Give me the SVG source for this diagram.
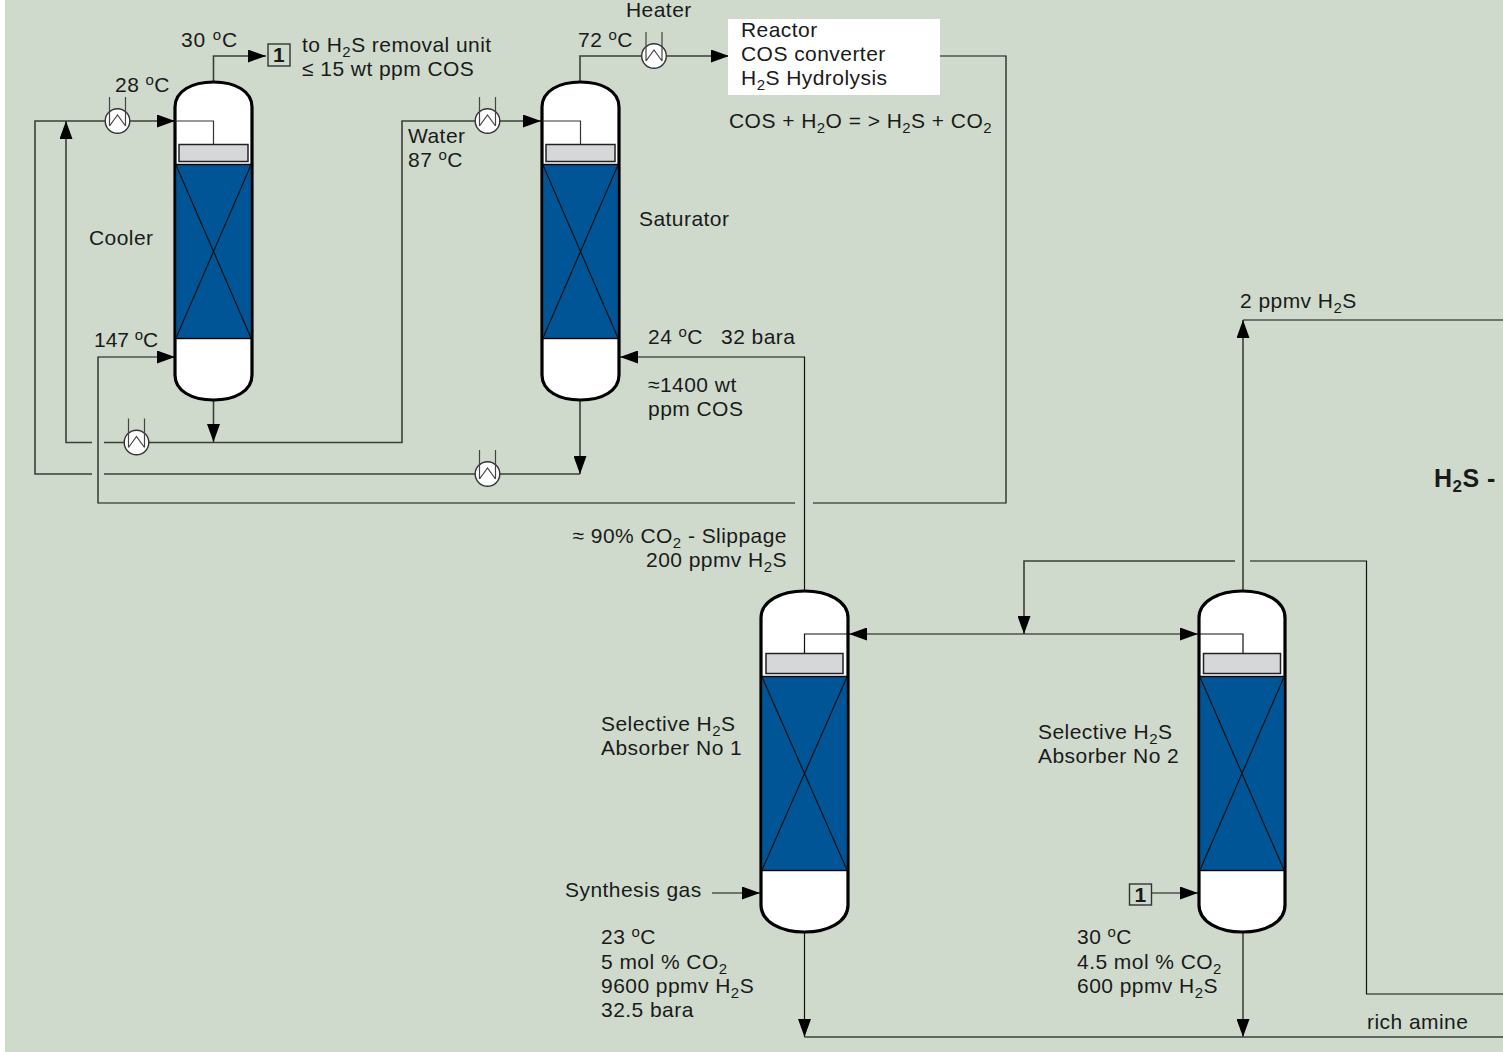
<svg xmlns="http://www.w3.org/2000/svg" xmlns:xlink="http://www.w3.org/1999/xlink" width="1503" height="1052" viewBox="0 0 1503 1052">
<style>
text{font-family:"Liberation Sans",Arial,sans-serif;font-size:21px;letter-spacing:.45px;fill:#1a1a1a}
.sub{font-size:15px}
.sup{font-size:15px}
.b{font-weight:700}
.ln{fill:none;stroke:#3a3f3a;stroke-width:1.6}
.thin{fill:none;stroke:#111;stroke-width:1.2}
.ves{fill:#fff;stroke:#000;stroke-width:3.2}
.pack{fill:#005596;stroke:#000;stroke-width:1.4}
.tray{fill:#d6d7d9;stroke:#222;stroke-width:1.5}
.hx{fill:#fff;stroke:#333;stroke-width:1.4}
.hxl{fill:none;stroke:#444;stroke-width:1.2}
.tag{fill:none;stroke:#333;stroke-width:1.4}
</style>
<defs>
<marker id="a" markerUnits="userSpaceOnUse" markerWidth="19" markerHeight="13" refX="18" refY="6.5" orient="auto-start-reverse"><path d="M0 0L18 6.5L0 13Z" fill="#000"/></marker>
<g id="hx"><circle class="hx" r="12.3"/><path class="hxl" d="M-8-24V5M8-24V5M-8 5L0-6L8 5"/></g>
</defs>
<rect width="1503" height="1052" fill="#fff"/>
<rect x="5" width="1498" height="1052" fill="#cfdacd"/>

<g id="connectors">
<path class="ln" d="M213.500 82V56H266" marker-end="url(#a)"/>
<path class="ln" d="M92 474H35V121H175" marker-end="url(#a)"/>
<path class="ln" d="M104 474H580"/>
<path class="ln" d="M92 442.500H66V121" marker-end="url(#a)"/>
<path class="ln" d="M104 442.500H402V121H541" marker-end="url(#a)"/>
<path class="ln" d="M213.500 400V442" marker-end="url(#a)"/>
<path class="ln" d="M580 400V474" marker-end="url(#a)"/>
<path class="thin" d="M795 503H98V357H175" marker-end="url(#a)"/>
<path class="thin" d="M813 503H1006V56H940"/>
<path class="ln" d="M580 82V56H729" marker-end="url(#a)"/>
<path class="thin" d="M804.500 591V357H620" marker-end="url(#a)"/>
<path class="ln" d="M1243 591V320" marker-end="url(#a)"/>
<path class="thin" d="M1243 320H1503"/>
<path class="ln" d="M1235 561H1024V634" marker-end="url(#a)"/>
<path class="thin" d="M1250 561H1366.500V994H1503"/>
<path class="thin" d="M849 634H1198" marker-start="url(#a)" marker-end="url(#a)"/>
<path class="thin" d="M712 893H760" marker-end="url(#a)"/>
<path class="thin" d="M1152 893H1198" marker-end="url(#a)"/>
<path class="thin" d="M804.500 932V1037" marker-end="url(#a)"/>
<path class="thin" d="M1243 932V1037" marker-end="url(#a)"/>
<path class="ln" d="M804.500 1037H1503"/>
</g>

<g id="cooler">
<path class="ves" d="M175 107C175 91 192 82 213.500 82C235 82 252 91 252 107V375C252 391 235 400 213.500 400C192 400 175 391 175 375Z"/>
<rect class="pack" x="175.500" y="164.500" width="76" height="174"/>
<path class="thin" d="M176 165L251 338M251 165L176 338"/>
<rect class="tray" x="179" y="144.500" width="69" height="17"/>
<path class="thin" d="M175 121H213.500V144" style="stroke:#333"/>
<text x="89" y="245">Cooler</text>
</g>

<g id="saturator">
<path class="ves" d="M542 107C542 91 559 82 580.500 82C602 82 619 91 619 107V375C619 391 602 400 580.500 400C559 400 542 391 542 375Z"/>
<rect class="pack" x="542.500" y="164.500" width="76" height="174"/>
<path class="thin" d="M543 165L618 338M618 165L543 338"/>
<rect class="tray" x="546" y="144.500" width="69" height="17"/>
<path class="thin" d="M542 121H580.500V144" style="stroke:#333"/>
<text x="639" y="226">Saturator</text>
</g>

<g id="absorber1">
<path class="ves" d="M761 618C761 601 781 591 804.500 591C828 591 848 601 848 618V905C848 922 828 932 804.500 932C781 932 761 922 761 905Z"/>
<rect class="pack" x="761.500" y="676.500" width="86" height="194"/>
<path class="thin" d="M762 677L847 870M847 677L762 870"/>
<rect class="tray" x="766" y="653.500" width="77" height="20"/>
<path class="thin" d="M848 634H804.500V653"/>
<text x="601" y="731">Selective H<tspan class="sub" dy="5">2</tspan><tspan dy="-5">S</tspan></text>
<text x="601" y="755">Absorber No 1</text>
</g>

<g id="absorber2">
<path class="ves" d="M1199 618C1199 601 1219 591 1242.500 591C1266 591 1285 601 1285 618V905C1285 922 1266 932 1242.500 932C1219 932 1199 922 1199 905Z"/>
<rect class="pack" x="1199.500" y="676.500" width="85" height="194"/>
<path class="thin" d="M1200 677L1284 870M1284 677L1200 870"/>
<rect class="tray" x="1203.500" y="653.500" width="77" height="20"/>
<path class="thin" d="M1199 634H1243V653"/>
<text x="1038" y="739">Selective H<tspan class="sub" dy="5">2</tspan><tspan dy="-5">S</tspan></text>
<text x="1038" y="763">Absorber No 2</text>
</g>

<g id="reactor">
<rect x="728" y="19" width="212" height="76" fill="#fff"/>
<text x="741" y="37">Reactor</text>
<text x="741" y="61">COS converter</text>
<text x="741" y="85">H<tspan class="sub" dy="5">2</tspan><tspan dy="-5">S Hydrolysis</tspan></text>
</g>

<g id="exchangers">
<use xlink:href="#hx" href="#hx" x="117.500" y="121"/>
<use xlink:href="#hx" href="#hx" x="487.500" y="121"/>
<use xlink:href="#hx" href="#hx" x="654" y="56"/>
<use xlink:href="#hx" href="#hx" x="136.500" y="442.500"/>
<use xlink:href="#hx" href="#hx" x="487.500" y="474"/>
</g>

<g id="tag1-top"><rect class="tag" x="268" y="44" width="22" height="22"/><text class="b" x="279" y="62" text-anchor="middle">1</text></g>
<g id="tag1-bottom"><rect class="tag" x="1129.500" y="884" width="22" height="21"/><text class="b" x="1140.500" y="902" text-anchor="middle">1</text></g>

<g id="labels">
<text x="181" y="47" style="letter-spacing:.85px">30 <tspan class="sup" dy="-7">o</tspan><tspan dy="7">C</tspan></text>
<text x="302" y="52">to H<tspan class="sub" dy="5">2</tspan><tspan dy="-5">S removal unit</tspan></text>
<text x="302" y="76">≤ 15 wt ppm COS</text>
<text x="115" y="92">28 <tspan class="sup" dy="-7">o</tspan><tspan dy="7">C</tspan></text>
<text x="408" y="143">Water</text>
<text x="408" y="167">87 <tspan class="sup" dy="-7">o</tspan><tspan dy="7">C</tspan></text>
<text x="626" y="17">Heater</text>
<text x="578" y="47">72 <tspan class="sup" dy="-7">o</tspan><tspan dy="7">C</tspan></text>
<text x="729" y="128">COS + H<tspan class="sub" dy="5">2</tspan><tspan dy="-5">O = &gt; H</tspan><tspan class="sub" dy="5">2</tspan><tspan dy="-5">S + CO</tspan><tspan class="sub" dy="5">2</tspan></text>
<text x="94" y="347" style="letter-spacing:-.05px">147 <tspan class="sup" dy="-7">o</tspan><tspan dy="7">C</tspan></text>
<text x="648" y="344">24 <tspan class="sup" dy="-7">o</tspan><tspan dy="7">C</tspan><tspan x="721">32 bara</tspan></text>
<text x="648" y="392">≈1400 wt</text>
<text x="648" y="416">ppm COS</text>
<text x="787" y="543" text-anchor="end">≈ 90% CO<tspan class="sub" dy="5">2</tspan><tspan dy="-5"> - Slippage</tspan></text>
<text x="787" y="567" text-anchor="end">200 ppmv H<tspan class="sub" dy="5">2</tspan><tspan dy="-5">S</tspan></text>
<text x="1240" y="308">2 ppmv H<tspan class="sub" dy="5">2</tspan><tspan dy="-5">S</tspan></text>
<text class="b" x="1434" y="487" style="font-size:25px">H<tspan class="sub" dy="5" style="font-size:17px">2</tspan><tspan dy="-5">S -</tspan></text>
<text x="565" y="897">Synthesis gas</text>
<text x="601" y="944">23 <tspan class="sup" dy="-7">o</tspan><tspan dy="7">C</tspan></text>
<text x="601" y="969">5 mol % CO<tspan class="sub" dy="5">2</tspan></text>
<text x="601" y="993">9600 ppmv H<tspan class="sub" dy="5">2</tspan><tspan dy="-5">S</tspan></text>
<text x="601" y="1017">32.5 bara</text>
<text x="1077" y="944">30 <tspan class="sup" dy="-7">o</tspan><tspan dy="7">C</tspan></text>
<text x="1077" y="969">4.5 mol % CO<tspan class="sub" dy="5">2</tspan></text>
<text x="1077" y="993">600 ppmv H<tspan class="sub" dy="5">2</tspan><tspan dy="-5">S</tspan></text>
<text x="1367" y="1029">rich amine</text>
</g>
</svg>
